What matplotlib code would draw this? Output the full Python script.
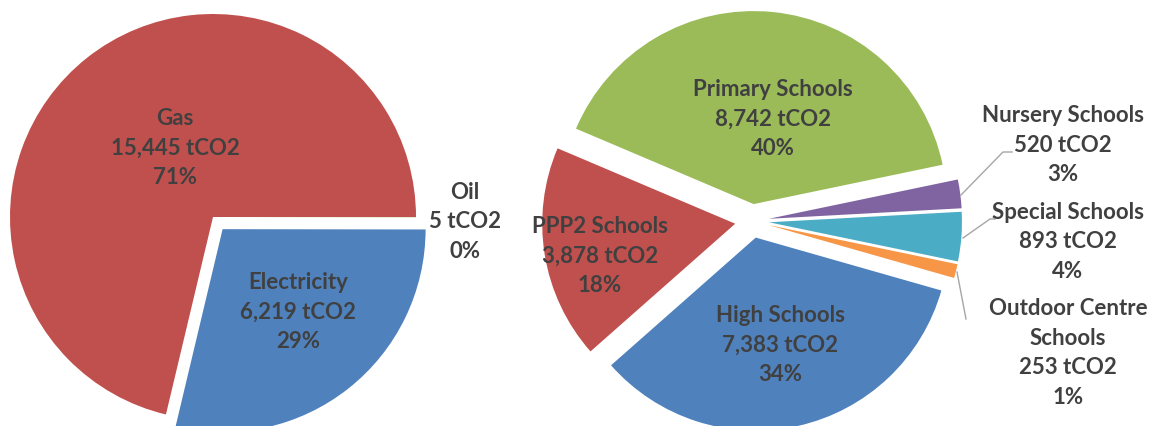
import matplotlib.pyplot as plt

# fuel split
fuel_names = ["Gas", "Electricity", "Oil"]
fuel_tco2 = [15445, 6219, 5]
fuel_pct = ["71%", "29%", "0%"]
fuel_colors = ["#C0504D", "#4F81BD", "#9BBB59"]

# school type split
school_names = ["Primary Schools", "Nursery Schools", "Special Schools",
                "Outdoor Centre\nSchools", "High Schools", "PPP2 Schools"]
school_tco2 = [8742, 520, 893, 253, 7383, 3878]
school_pct = ["40%", "3%", "4%", "1%", "34%", "18%"]
school_colors = ["#9BBB59", "#8064A2", "#4BACC6", "#F79646", "#4F81BD", "#C0504D"]

W, H = 1149, 426
txt_color = "#404040"
font = dict(family=["Lato", "DejaVu Sans"], fontweight="bold", fontsize=16,
            color=txt_color, ha="center", va="center", linespacing=1.5)

fig = plt.figure(figsize=(W / 100, H / 100), dpi=100)
ax = fig.add_axes([0, 0, 1, 1])

# left pie (pixel-like data units, y up)
ax.pie(fuel_tco2, colors=fuel_colors, startangle=0, counterclock=True,
       center=(213, H - 217), radius=203, explode=[0, 15.5, 0],
       wedgeprops=dict(linewidth=0))

# right pie
ax.pie(school_tco2, colors=school_colors, startangle=157, counterclock=False,
       center=(752, H - 221), radius=193, explode=[17] * 6,
       wedgeprops=dict(linewidth=0))

def lbl(name, val, pct):
    return f"{name}\n{val:,} tCO2\n{pct}"

# label positions (image px)
fuel_pos = [(175, 148), (298, 312), (465, 222)]
school_pos = [(773, 119), (1063, 145), (1068, 242), (1068, 353), (780, 345), (600, 256)]

for n, v, p, (x, y) in zip(fuel_names, fuel_tco2, fuel_pct, fuel_pos):
    ax.text(x, H - y, lbl(n, v, p), **font)
for n, v, p, (x, y) in zip(school_names, school_tco2, school_pct, school_pos):
    ax.text(x, H - y, lbl(n, v, p), **font)

# leader lines for the small slices
leaders = [
    [(961, 195), (1003, 152), (1012, 152)],
    [(963, 238), (990, 219), (995, 219)],
    [(957, 272), (966, 319)],
]
for pts in leaders:
    ax.plot([p[0] for p in pts], [H - p[1] for p in pts], color="#A6A6A6", lw=1)

ax.set_xlim(0, W)
ax.set_ylim(0, H)
ax.set_aspect("auto")
ax.axis("off")

plt.savefig("out.png", dpi=100)
